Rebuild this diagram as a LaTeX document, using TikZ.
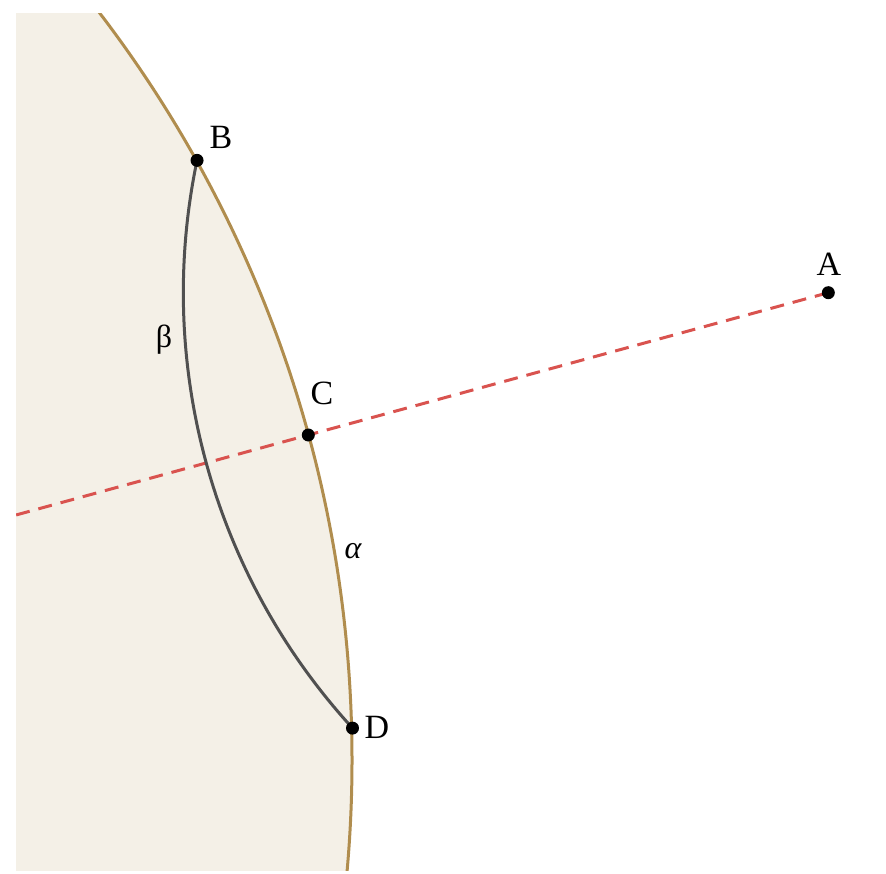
\documentclass[tikz,border=0pt]{standalone}
\usepackage{fontspec}
\setmainfont{Liberation Serif}
\usetikzlibrary{calc}
\definecolor{spherefill}{RGB}{244,240,231}
\definecolor{rimcol}{RGB}{176,141,78}
\definecolor{raycol}{RGB}{217,83,79}
\definecolor{arcgray}{RGB}{80,80,80}
\tikzset{
  dotpt/.style={circle,fill=black,inner sep=0pt,minimum size=6.5pt},
  lbl/.style={font=\fontsize{17}{20}\selectfont, inner sep=0pt},
  greek/.style={font=\fontsize{16}{19}\selectfont, inner sep=0pt},
  rimline/.style={draw=rimcol, line width=1.5pt},
  rayline/.style={draw=raycol, line width=1.5pt, dash pattern=on 7pt off 4.5pt},
  betaline/.style={draw=arcgray, line width=1.5pt}
}
\begin{document}
\begin{tikzpicture}[x=0.5pt,y=0.5pt]
\useasboundingbox (0,0) rectangle (886,873);
\coordinate (O) at (-880,112.8);
\coordinate (A) at (828.3,580.3);
\coordinate (C) at ($(O)!0.69561!(A)$);
\coordinate (B) at ($(A)+(168.16:645)$);
\coordinate (D) at ($(A)+(222.46:645)$);
\begin{scope}
  \clip (16,3) rectangle (886,859);
  \fill[spherefill] (O) circle[radius=1232];
  \draw[rimline] (O) circle[radius=1232];
  \draw[rayline] (A) -- (O);
\end{scope}
\draw[betaline] (B) arc[start angle=168.16, end angle=222.46, radius=645];
\node[dotpt] (pA) at (A) {};
\node[dotpt] (pB) at (B) {};
\node[dotpt] (pC) at (C) {};
\node[dotpt] (pD) at (D) {};
\node[lbl] (lA) at (829,609) {A};
\node[lbl] (lB) at (221,736) {B};
\node[lbl] (lC) at (322,480) {C};
\node[lbl] (lD) at (377,146) {D};
\node[greek] (lbeta) at (164,533) {β};
\node[greek,font=\fontsize{16}{19}\selectfont\itshape] (lalpha) at (353,322) {α};
\end{tikzpicture}
\end{document}
